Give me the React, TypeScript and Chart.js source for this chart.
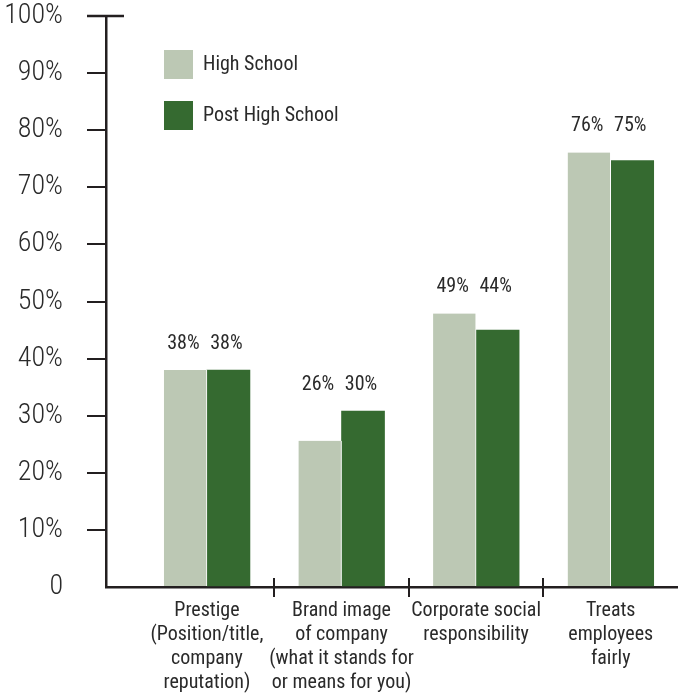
import React, { useEffect, useRef } from 'react';
import { Chart, registerables } from 'chart.js';

Chart.register(...registerables);

const categories: string[][] = [
  ['Prestige', '(Position/title,', 'company', 'reputation)'],
  ['Brand image', 'of company', '(what it stands for', 'or means for you)'],
  ['Corporate social', 'responsibility'],
  ['Treats', 'employees', 'fairly'],
];
const seriesNames = ['High School', 'Post High School'];
const highSchool = [38, 25.6, 47.9, 76.1];
const postHighSchool = [38, 30.8, 45, 74.7];
const highSchoolLabels = ['38%', '26%', '49%', '76%'];
const postHighSchoolLabels = ['38%', '30%', '44%', '75%'];
const yMin = 0;
const yMax = 100;
const yStep = 10;

const INK = '#231f20';
const TEXT = '#2a2a2a';
const LIGHT = '#bcc8b4';
const DARK = '#356a30';
const FAMILY = 'Roboto, "DejaVu Sans Condensed", sans-serif';
const WEIGHT = 'normal condensed';

const valueLabels = [highSchoolLabels, postHighSchoolLabels];

const decorPlugin = {
  id: 'decor',
  afterDraw(chart: any) {
    const { ctx, chartArea, scales } = chart;
    const xs = scales.x;
    const ys = scales.y;
    ctx.save();
    ctx.strokeStyle = INK;
    ctx.lineCap = 'butt';
    ctx.lineWidth = 2;
    for (let i = 0; i < categories.length - 1; i++) {
      const px = Math.round(xs.getPixelForValue(i + 0.5));
      ctx.beginPath();
      ctx.moveTo(px, chartArea.bottom - 9);
      ctx.lineTo(px, chartArea.bottom + 10);
      ctx.stroke();
    }
    const ty = ys.getPixelForValue(yMax);
    ctx.lineWidth = 2.5;
    ctx.beginPath();
    ctx.moveTo(chartArea.left - 19, ty);
    ctx.lineTo(chartArea.left + 18, ty);
    ctx.stroke();

    ctx.fillStyle = TEXT;
    ctx.font = `${WEIGHT} 20px ${FAMILY}`;
    ctx.textAlign = 'center';
    ctx.textBaseline = 'middle';
    const metas = [chart.getDatasetMeta(0), chart.getDatasetMeta(1)];
    for (let i = 0; i < categories.length; i++) {
      const top = Math.min(metas[0].data[i].y, metas[1].data[i].y);
      metas.forEach((m: any, d: number) => {
        ctx.fillText(valueLabels[d][i], m.data[i].x - 2, top - 26);
      });
    }

    const colors = [LIGHT, DARK];
    ctx.textAlign = 'left';
    ctx.font = `${WEIGHT} 20px ${FAMILY}`;
    seriesNames.forEach((name, k) => {
      const bx = chartArea.left + 58;
      const by = chartArea.top + 34 + k * 51;
      ctx.fillStyle = colors[k];
      ctx.fillRect(bx, by, 29, 29);
      ctx.fillStyle = TEXT;
      ctx.fillText(name, bx + 39, by + 14.5);
    });
    ctx.restore();
  },
};

export default function App() {
  const canvasRef = useRef<HTMLCanvasElement | null>(null);

  useEffect(() => {
    document.body.style.margin = '0';
    const canvas = canvasRef.current;
    if (!canvas) return;
    const chart = new Chart(canvas, {
      type: 'bar',
      data: {
        datasets: [
          {
            label: seriesNames[0],
            data: highSchool.map((v, i) => ({ x: i, y: v })),
            backgroundColor: LIGHT,
            borderColor: '#ffffff',
            borderWidth: { top: 0, left: 0, bottom: 0, right: 1 },
            borderSkipped: false,
            barThickness: 43,
          },
          {
            label: seriesNames[1],
            data: postHighSchool.map((v, i) => ({ x: i, y: v })),
            backgroundColor: DARK,
            borderWidth: 0,
            barThickness: 43,
          },
        ],
      } as any,
      options: {
        animation: false,
        responsive: true,
        maintainAspectRatio: false,
        layout: { padding: { top: 16, left: 0, right: 0, bottom: 0 } },
        plugins: {
          legend: { display: false },
          tooltip: { enabled: false },
        },
        scales: {
          x: {
            type: 'linear',
            offset: false,
            min: -0.75,
            max: categories.length - 0.5,
            grid: { display: true, offset: false, drawOnChartArea: false, drawTicks: false, color: 'rgba(0,0,0,0)' },
            border: { display: true, color: INK, width: 2.5 },
            ticks: {
              stepSize: 1,
              includeBounds: false,
              autoSkip: false,
              maxRotation: 0,
              minRotation: 0,
              padding: 12,
              color: TEXT,
              font: { family: FAMILY, weight: WEIGHT, size: 20, lineHeight: '24px' as any },
              callback: (v: any) => {
                const n = Number(v);
                return Number.isInteger(n) && categories[n] ? categories[n] : '';
              },
            },
            afterFit: (scale: any) => {
              scale.height = 109;
              scale.paddingLeft = 0;
              scale.paddingRight = 0;
            },
          } as any,
          y: {
            min: yMin,
            max: yMax,
            grid: {
              drawOnChartArea: false,
              drawTicks: true,
              tickLength: 19,
              lineWidth: 2,
              color: (c: any) => (c.tick && c.tick.value === yMin ? 'rgba(0,0,0,0)' : INK),
            },
            border: { display: true, color: INK, width: 2.5 },
            ticks: {
              stepSize: yStep,
              padding: 24,
              color: TEXT,
              font: { family: FAMILY, weight: '300 condensed', size: 28 },
              callback: (v: any) => (Number(v) === 0 ? '0' : `${v}%`),
            },
            afterFit: (scale: any) => {
              scale.width = 106;
              scale.paddingTop = 0;
              scale.paddingBottom = 0;
            },
          } as any,
        },
      },
      plugins: [decorPlugin],
    });
    return () => chart.destroy();
  }, []);

  return (
    <div style={{ position: 'absolute', left: 0, top: 0, width: 678, height: 696, background: '#fff' }}>
      <canvas ref={canvasRef} />
    </div>
  );
}
